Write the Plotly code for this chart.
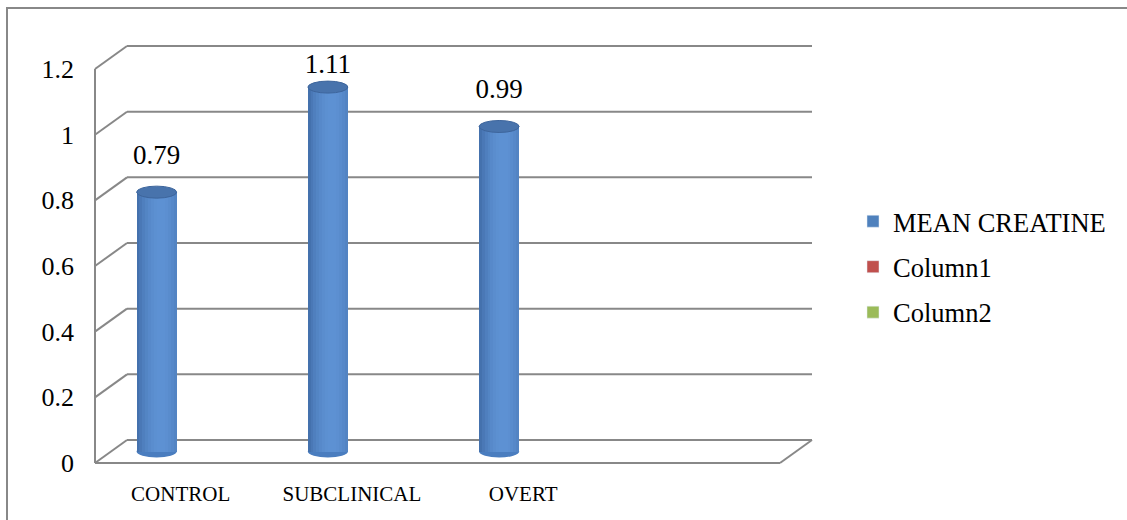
import plotly.graph_objects as go
import numpy as np

# ---- data ----
categories = ["CONTROL", "SUBCLINICAL", "OVERT"]
mean_creatine = [0.79, 1.11, 0.99]
legend_names = ["MEAN CREATINE", "Column1", "Column2"]
legend_colors = ["#4F81BD", "#C0504D", "#9BBB59"]
y_ticks = [0, 0.2, 0.4, 0.6, 0.8, 1, 1.2]
y_ticktext = ["0", "0.2", "0.4", "0.6", "0.8", "1", "1.2"]

W, H = 1127, 520
# pixel geometry of the 3D frame
PXX = 171.25          # px per category
PXY = 328.3           # px per value unit
X0PX, Y0PX = 95, 463  # front-left-bottom corner in px
n_slots = 4

def xr(px):
    return -0.5 + (px - X0PX) / PXX

def yr(py):
    return (Y0PX - py) / PXY

x_range = [xr(0), xr(W)]
y_range = [yr(H), yr(0)]

dxb = 32 / PXX   # depth offset (back wall)
dyb = 23 / PXY
dxm = -24 / PXX  # cylinder horizontal shift
base = 11.5 / PXY
cyl_w = 40 / PXX
ell_h = 6 / PXY

grid_col = "#888888"
shapes = []
xl, xrgt = -0.5, n_slots - 0.5
# back wall gridlines + left wall diagonals
for v in y_ticks:
    if v > 0:
        shapes.append(dict(type="line", xref="x", yref="y", x0=xl + dxb, x1=xrgt + dxb,
                           y0=v + dyb, y1=v + dyb, line=dict(color=grid_col, width=2), layer="below"))
    shapes.append(dict(type="line", xref="x", yref="y", x0=xl, x1=xl + dxb,
                       y0=v, y1=v + dyb, line=dict(color=grid_col, width=2), layer="below"))
# floor
shapes.append(dict(type="line", xref="x", yref="y", x0=xl + dxb, x1=xrgt + dxb, y0=dyb, y1=dyb,
                   line=dict(color=grid_col, width=2), layer="below"))
shapes.append(dict(type="line", xref="x", yref="y", x0=xl, x1=xrgt, y0=0, y1=0,
                   line=dict(color=grid_col, width=2), layer="below"))
shapes.append(dict(type="line", xref="x", yref="y", x0=xrgt, x1=xrgt + dxb, y0=0, y1=dyb,
                   line=dict(color=grid_col, width=2), layer="below"))
# left front vertical
shapes.append(dict(type="line", xref="x", yref="y", x0=xl, x1=xl, y0=0, y1=max(y_ticks),
                   line=dict(color=grid_col, width=2), layer="below"))

# outer chart border (left & top visible)
shapes.append(dict(type="rect", xref="paper", yref="paper", x0=7 / W, x1=1.2, y0=-0.2, y1=1 - 8 / H,
                   line=dict(color="#888888", width=2), fillcolor="rgba(0,0,0,0)", layer="below"))

# cylinder shading slices
N = 14
dark = np.array([0x2E, 0x55, 0x8C])
light = np.array([0x5E, 0x92, 0xD4])
def shade(t):
    f = np.cos((t - 0.6) / 0.75 * np.pi / 2)
    f = max(0.0, f) ** 0.8
    c = dark + (light - dark) * f
    return "rgb(%d,%d,%d)" % tuple(c.astype(int))

sx, sy, sc = [], [], []
for i, v in enumerate(mean_creatine):
    xc = i + dxm
    for k in range(N):
        t = (k + 0.5) / N
        sx.append(xc - cyl_w / 2 + t * cyl_w)
        sy.append(v)
        sc.append(shade(t))
    # bottom and top ellipses
    shapes.append(dict(type="circle", xref="x", yref="y", x0=xc - cyl_w / 2, x1=xc + cyl_w / 2,
                       y0=base - ell_h, y1=base + ell_h, fillcolor="#4A7DBF", line=dict(width=0), layer="below"))
    shapes.append(dict(type="circle", xref="x", yref="y", x0=xc - cyl_w / 2, x1=xc + cyl_w / 2,
                       y0=base + v - ell_h, y1=base + v + ell_h, fillcolor="#4873AC",
                       line=dict(color="#3D659C", width=1), layer="above"))

fig = go.Figure()
fig.add_trace(go.Bar(x=sx, y=sy, base=base, width=cyl_w / N * 1.08, marker=dict(color=sc, line=dict(width=0)),
                     showlegend=False, hoverinfo="skip"))

# data labels (placed ~35 px above the cylinder top, kept inside the plot area)
lab_x = [i + dxm for i in range(len(mean_creatine))]
lab_y = [min(v + base + 35 / PXY, 1.21) for v in mean_creatine]
fig.add_trace(go.Scatter(x=lab_x, y=lab_y, mode="text", text=["%.2f" % v for v in mean_creatine],
                         textposition="middle center",
                         textfont=dict(family="Liberation Serif", size=27, color="black"),
                         showlegend=False, hoverinfo="skip"))

# legend entries
for nm, col in zip(legend_names, legend_colors):
    fig.add_trace(go.Bar(x=[None], y=[None], name=nm, marker=dict(color=col), legendgroup=nm))

fig.update_layout(
    width=W, height=H,
    margin=dict(l=0, r=0, t=0, b=0),
    paper_bgcolor="white", plot_bgcolor="white",
    barmode="overlay", bargap=0,
    shapes=shapes,
    showlegend=True,
    legend=dict(x=853 / W, xanchor="left", y=1 - 267 / H, yanchor="middle",
                font=dict(family="Liberation Serif", size=26.5, color="black"),
                tracegroupgap=8, bgcolor="rgba(0,0,0,0)"),
    xaxis=dict(range=x_range, tickmode="array", tickvals=list(range(len(categories))), ticktext=categories,
               showgrid=False, zeroline=False, showline=False, ticks="",
               anchor="free", position=(H - Y0PX) / H, ticklabelstandoff=16,
               tickfont=dict(family="Liberation Serif", size=21, color="black"), fixedrange=True),
    yaxis=dict(range=y_range, tickmode="array", tickvals=y_ticks, ticktext=y_ticktext,
               showgrid=False, zeroline=False, showline=False, ticks="",
               anchor="free", position=X0PX / W, ticklabelstandoff=21,
               tickfont=dict(family="Liberation Serif", size=26, color="black"), fixedrange=True),
)

fig.write_html("out.html")
